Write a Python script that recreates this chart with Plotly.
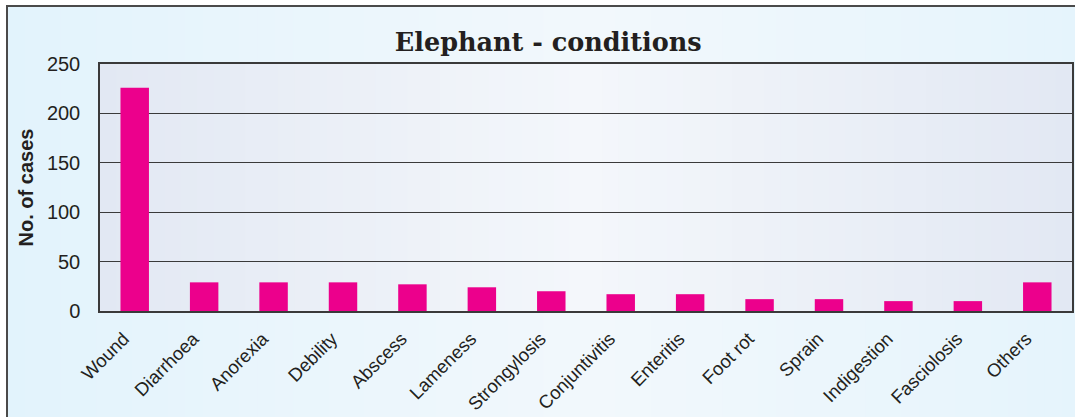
import plotly.graph_objects as go

# Elephant cases by condition
conditions = ["Wound", "Diarrhoea", "Anorexia", "Debility", "Abscess", "Lameness",
              "Strongylosis", "Conjuntivitis", "Enteritis", "Foot rot", "Sprain",
              "Indigestion", "Fasciolosis", "Others"]
cases = [226, 29, 29, 29, 27, 24, 20, 17, 17, 12, 12, 10, 10, 29]
y_ticks = [0, 50, 100, 150, 200, 250]

W, H = 1075, 417
L, R, T, B = 100, 3, 64, 106
pw, ph = W - L - R, H - T - B


def px_x(x):
    return (x - L) / pw


def px_y(y):
    return (H - B - y) / ph


def blend(c1, c2, t):
    return "rgb(%d,%d,%d)" % tuple(round(a + (b - a) * t) for a, b in zip(c1, c2))


shapes = []
# outer panel with a soft horizontal gradient (lighter towards the middle)
n = 60
ox0, ox1 = 7, 1080
edge, mid = (226, 243, 252), (242, 248, 252)
for i in range(n):
    xa = ox0 + (ox1 - ox0) * i / n
    xb = ox0 + (ox1 - ox0) * (i + 1) / n + 1
    t = 1 - abs((i + 0.5) / n - 0.55) / 0.55
    shapes.append(dict(type="rect", xref="paper", yref="paper", layer="below",
                       x0=px_x(xa), x1=px_x(xb), y0=px_y(430), y1=px_y(6),
                       fillcolor=blend(edge, mid, max(t, 0)), line_width=0))
shapes.append(dict(type="rect", xref="paper", yref="paper", layer="below",
                   x0=px_x(7), x1=px_x(1090), y0=px_y(430), y1=px_y(6),
                   fillcolor="rgba(0,0,0,0)", line=dict(color="#4a4a4a", width=2)))
# plot area gradient
pedge, pmid = (226, 232, 243), (244, 247, 251)
for i in range(n):
    xa = i / n
    xb = (i + 1) / n + 0.002
    t = 1 - abs((i + 0.5) / n - 0.5) / 0.5
    shapes.append(dict(type="rect", xref="paper", yref="paper", layer="below",
                       x0=xa, x1=min(xb, 1), y0=0, y1=1,
                       fillcolor=blend(pedge, pmid, max(t, 0)), line_width=0))

fig = go.Figure(go.Bar(x=conditions, y=cases, marker=dict(color="#EC008C", line_width=0),
                       width=0.41))

# trailing non-breaking spaces nudge the slanted labels down-left of each bar
pad = "\u00a0" * 3
fig.update_layout(
    width=W, height=H,
    margin=dict(l=L, r=R, t=T, b=B),
    paper_bgcolor="white",
    plot_bgcolor="rgba(0,0,0,0)",
    shapes=shapes,
    showlegend=False,
    title=dict(text="<b>Elephant - conditions</b>", x=0.51, xanchor="center",
               y=1 - 42 / H, yanchor="middle",
               font=dict(family="DejaVu Serif", size=25.5, color="#231F20")),
    font=dict(family="Liberation Sans, Arial", color="#231F20"),
)
fig.update_xaxes(
    tickangle=-45, tickfont=dict(size=18.5, color="#231F20"),
    tickvals=conditions, ticktext=[c + pad for c in conditions],
    showline=True, linecolor="#3a3a3a", linewidth=1.5, mirror=True,
    showgrid=False, ticks="", ticklabelstandoff=-3, automargin=False,
)
fig.update_yaxes(
    range=[0, 250], tickvals=y_ticks, tickfont=dict(size=20, color="#231F20"),
    showline=True, linecolor="#3a3a3a", linewidth=1.5, mirror=True,
    showgrid=True, gridcolor="#3a3a3a", gridwidth=1, zeroline=False,
    ticks="", ticklabelstandoff=14, automargin=False,
    title=dict(text="<b>No. of cases</b>", font=dict(size=20, color="#231F20"), standoff=8),
)

fig.write_html("out.html")
